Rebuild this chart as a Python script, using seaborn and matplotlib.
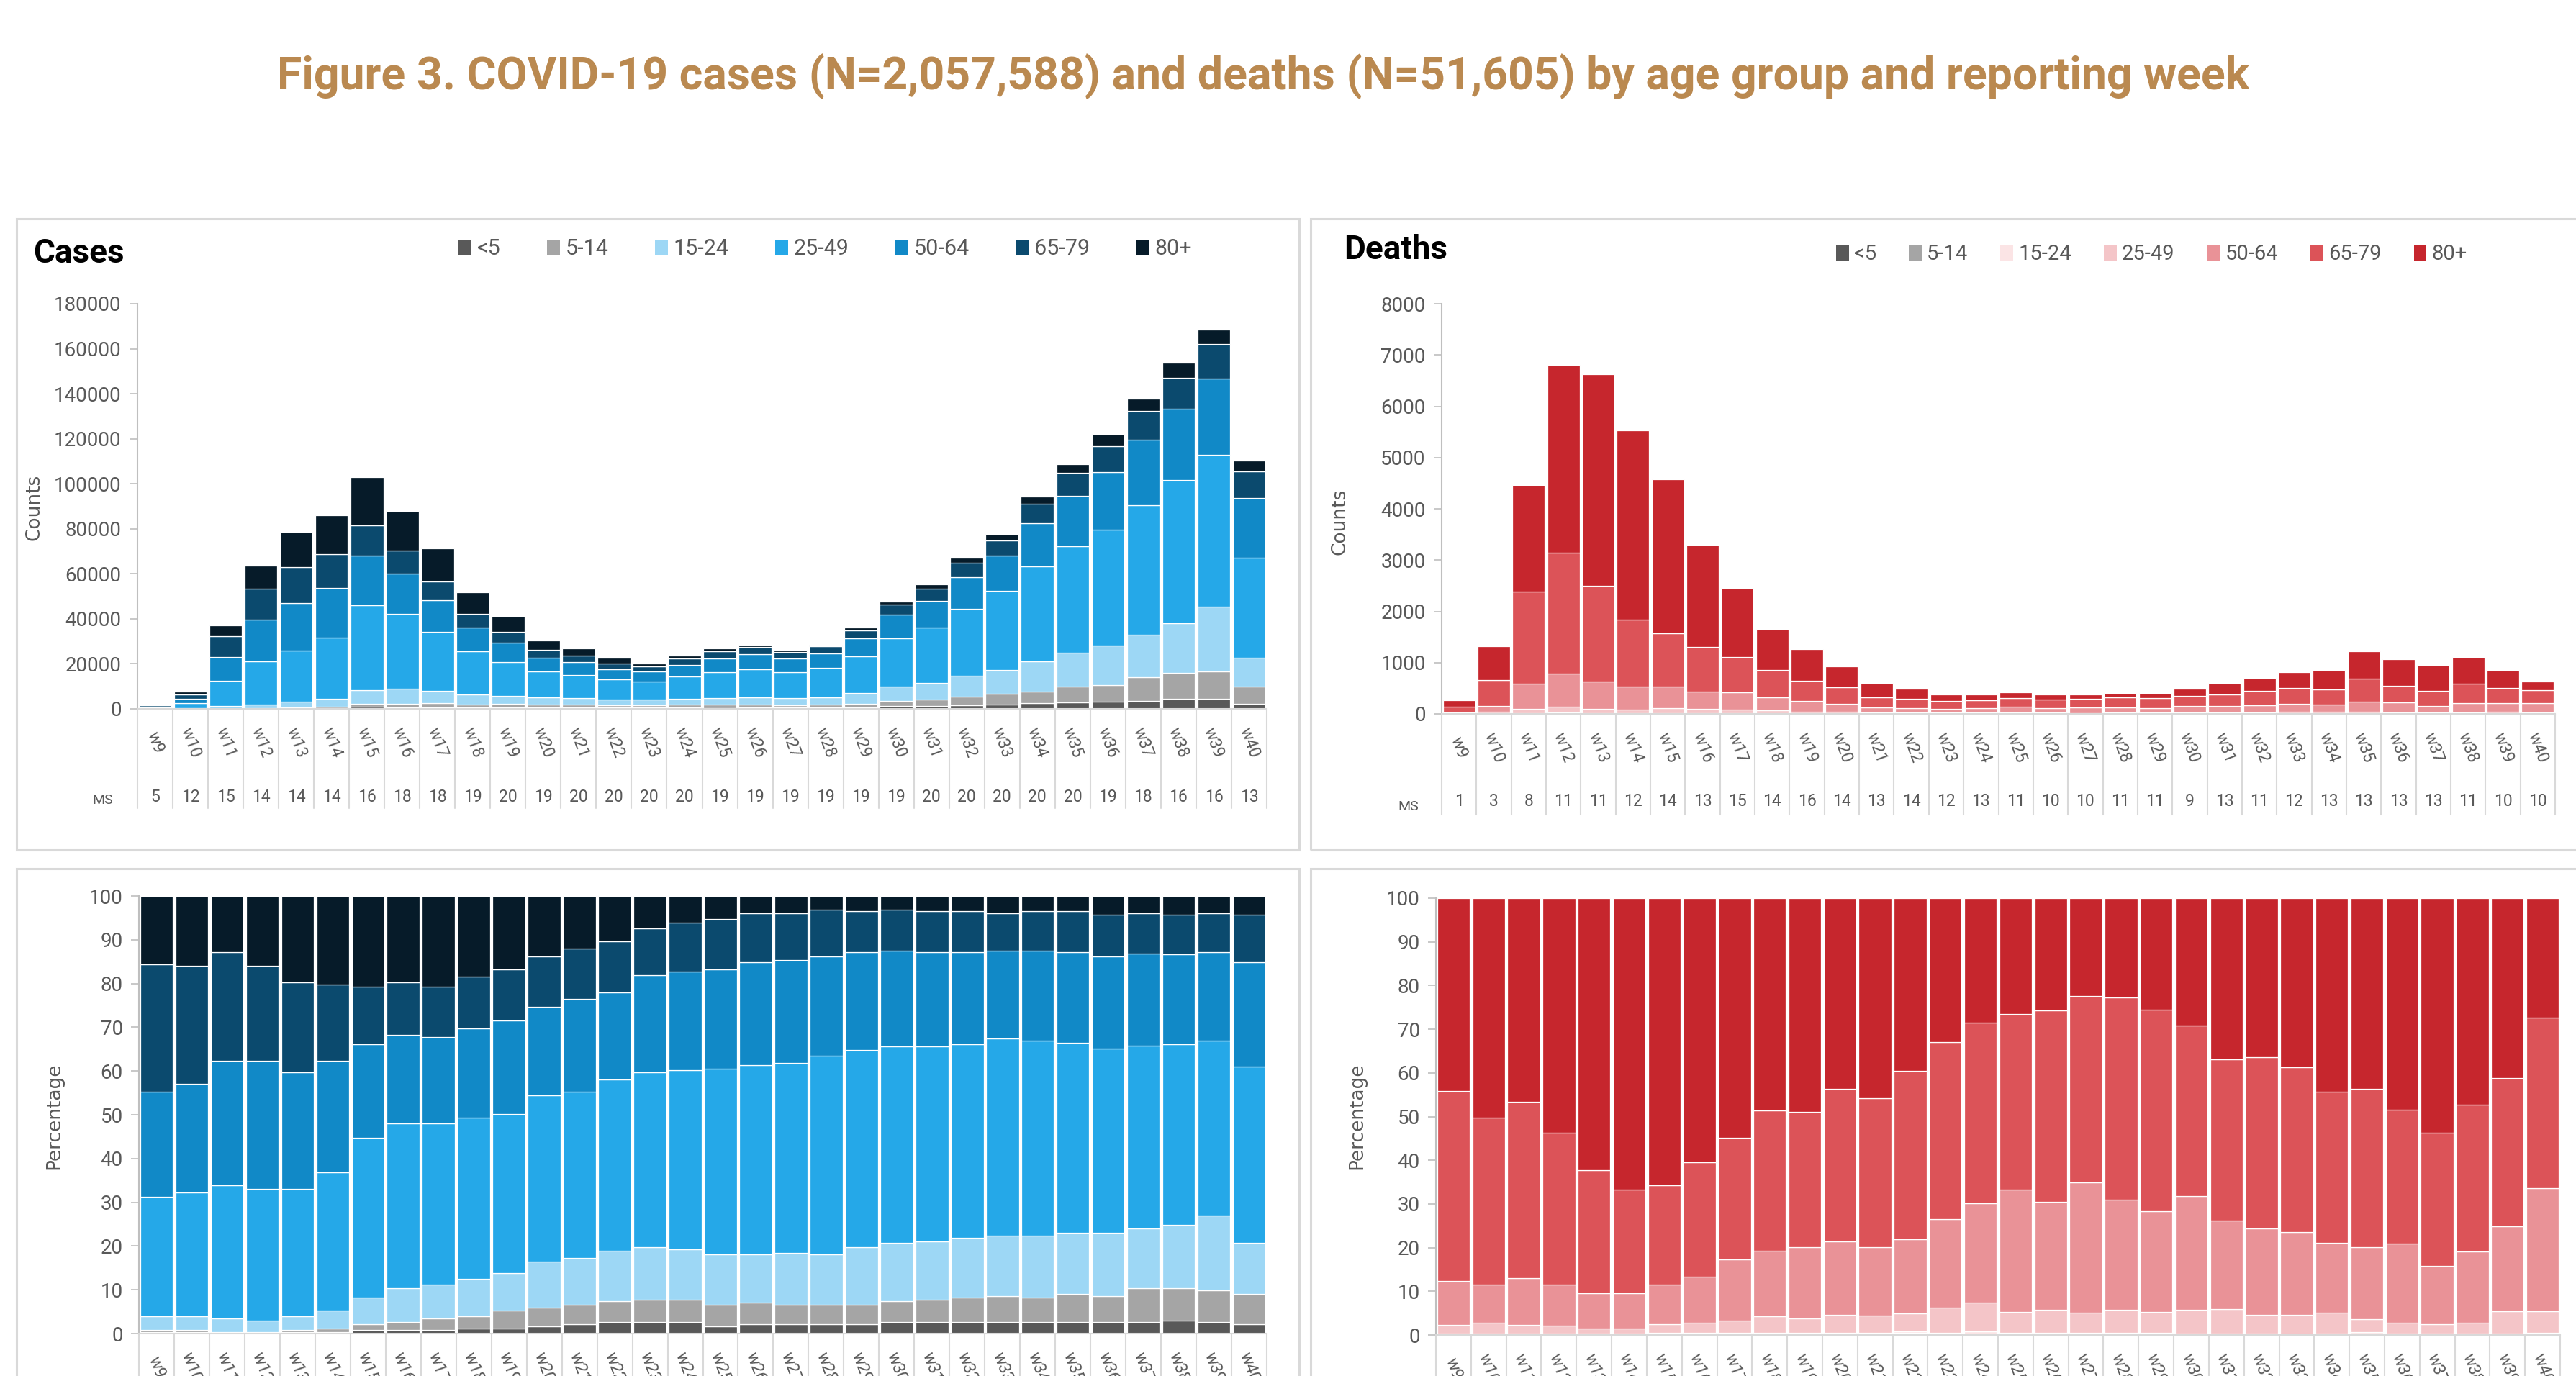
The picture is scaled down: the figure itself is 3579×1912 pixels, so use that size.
import numpy as np
import pandas as pd
import matplotlib
matplotlib.use("Agg")
import matplotlib.pyplot as plt
import seaborn as sns
from matplotlib.patches import Rectangle, Patch
from matplotlib.transforms import blended_transform_factory as btf

# ---------------- data ----------------
weeks = ["w9", "w10", "w11", "w12", "w13", "w14", "w15", "w16", "w17", "w18", "w19",
         "w20", "w21", "w22", "w23", "w24", "w25", "w26", "w27", "w28", "w29", "w30",
         "w31", "w32", "w33", "w34", "w35", "w36", "w37", "w38", "w39", "w40"]
age_groups = ["<5", "5-14", "15-24", "25-49", "50-64", "65-79", "80+"]

ms_cases = [5, 12, 15, 14, 14, 14, 16, 18, 18, 19, 20, 19, 20, 20, 20, 20, 19, 19, 19, 19,
            19, 19, 20, 20, 20, 20, 20, 19, 18, 16, 16, 13]
ms_deaths = [1, 3, 8, 11, 11, 12, 14, 13, 15, 14, 16, 14, 13, 14, 12, 13, 11, 10, 10, 11,
             11, 9, 13, 11, 12, 13, 13, 13, 13, 11, 10, 10]

# cases by age group and week
c_lt5 = [5, 23, 74, 127, 236, 344, 822, 703, 570, 623, 493, 488, 567, 588, 525, 616, 432, 601,
         550, 601, 758, 1240, 1435, 1747, 2023, 2452, 2824, 3172, 3583, 4614, 4384, 2316]
c_5_14 = [9, 38, 74, 127, 393, 689, 1336, 1582, 1851, 1401, 1644, 1342, 1215, 1085, 1050, 1232,
          1350, 1401, 1179, 1287, 1625, 2290, 2870, 3763, 4668, 5281, 6950, 7320, 10611, 11227,
          12308, 7611]
c_15_24 = [56, 239, 1113, 1656, 2434, 3444, 6271, 6768, 5554, 4463, 3535, 3172, 2862, 2599, 2424,
           2726, 3105, 3175, 3118, 3289, 4765, 6344, 7342, 9206, 10659, 13296, 15313, 17690,
           18879, 22301, 28831, 12905]
c_25_49 = [493, 2179, 11316, 19110, 22844, 27294, 37522, 33226, 26273, 19099, 14960, 11621, 10287,
           8837, 8060, 9693, 11475, 12384, 11345, 12984, 16245, 21465, 24619, 29702, 35088, 42152,
           47132, 51362, 57463, 63519, 67440, 44451]
c_50_64 = [432, 1917, 10536, 18664, 20960, 21869, 21999, 17668, 14026, 10640, 8795, 6131, 5697,
           4520, 4484, 5356, 6102, 6721, 6183, 6492, 8050, 10399, 11813, 14112, 15638, 19332,
           22372, 25620, 28938, 31683, 33889, 26362]
c_65_79 = [524, 2071, 9201, 13823, 16093, 15068, 13570, 10548, 8188, 6072, 4768, 3538, 3132, 2644,
           2161, 2631, 3132, 3203, 2803, 3060, 3393, 4484, 5189, 6317, 6691, 8487, 10208, 11590,
           12816, 13842, 15174, 11912]
c_80p = [281, 1232, 4786, 10192, 15543, 17392, 21280, 17404, 14738, 9602, 6905, 4209, 3240, 2328,
         1495, 1446, 1404, 1115, 1022, 887, 1264, 1479, 1932, 2352, 3034, 3301, 3801, 5246, 5374,
         6613, 6575, 4743]

# deaths by age group and week
d_lt5 = [0, 0, 0, 0, 0, 0, 0, 0, 0, 0, 0, 0, 0, 2, 0, 0, 0, 0, 0, 0, 0, 0, 0, 0, 0, 0, 0, 0, 0,
         0, 0, 0]
d_5_14 = [0, 0, 0, 0, 0, 0, 0, 0, 0, 0, 0, 0, 0, 0, 0, 0, 0, 0, 0, 0, 0, 0, 0, 0, 0, 0, 0, 0, 0,
          0, 0, 0]
d_15_24 = [1, 4, 13, 25, 20, 15, 20, 15, 12, 8, 6, 5, 3, 2, 2, 3, 2, 2, 2, 2, 2, 2, 2, 2, 2, 3, 8,
           3, 3, 3, 3, 3]
d_25_49 = [5, 33, 90, 120, 80, 70, 90, 80, 70, 62, 42, 38, 24, 20, 22, 25, 20, 20, 17, 22, 20, 26,
           33, 30, 35, 40, 37, 27, 20, 28, 43, 31]
d_50_64 = [26, 115, 480, 640, 530, 445, 420, 345, 343, 250, 204, 154, 93, 82, 77, 85, 116, 93, 113,
           104, 95, 127, 122, 140, 155, 136, 199, 195, 128, 181, 166, 178]
d_65_79 = [113, 506, 1800, 2360, 1870, 1310, 1036, 865, 683, 532, 390, 322, 204, 187, 154, 155,
           167, 166, 161, 192, 191, 191, 220, 276, 308, 296, 441, 327, 293, 371, 288, 247]
d_80p = [115, 663, 2082, 3660, 4130, 3685, 3014, 1998, 1349, 803, 615, 403, 274, 192, 125, 107,
         110, 97, 85, 94, 106, 142, 221, 257, 315, 377, 531, 520, 514, 522, 350, 173]

case_colors = ["#595959", "#A5A5A5", "#9DD7F5", "#25A8E8", "#1189C7", "#0B4A6E", "#061B29"]
death_colors = ["#595959", "#A5A5A5", "#FBE4E5", "#F4C5C8", "#E99297", "#DC5358", "#C6262D"]

title_text = "Figure 3. COVID-19 cases (N=2,057,588) and deaths (N=51,605) by age group and reporting week"


def long_frame(cols):
    df = pd.DataFrame(dict(zip(age_groups, cols)))
    df["idx"] = np.arange(len(weeks))
    return df.melt(id_vars="idx", var_name="age", value_name="n")


cases_df = long_frame([c_lt5, c_5_14, c_15_24, c_25_49, c_50_64, c_65_79, c_80p])
deaths_df = long_frame([d_lt5, d_5_14, d_15_24, d_25_49, d_50_64, d_65_79, d_80p])

# ---------------- figure ----------------
sns.set_theme(style="white")
plt.rcParams["font.family"] = ["Roboto", "DejaVu Sans"]

W, H = 3579, 1912
fig = plt.figure(figsize=(W / 100, H / 100), dpi=100)
fig.patch.set_facecolor("white")

GRAY = "#595959"


def rect(x0, y0, x1, y1):
    return [x0 / W, 1 - y1 / H, (x1 - x0) / W, (y1 - y0) / H]


def box(x0, y0, x1, y1):
    fig.add_artist(Rectangle((x0 / W, 1 - y1 / H), (x1 - x0) / W, (y1 - y0) / H,
                             transform=fig.transFigure, fill=False,
                             edgecolor="#D9D9D9", linewidth=2.2))


box(23, 304, 1805, 1181)
box(1821, 304, 3640, 1181)
box(23, 1207, 1805, 1990)
box(1821, 1207, 3640, 1990)

fig.text(1755 / W, 1 - 106 / H, title_text, ha="center", va="center",
         fontsize=45, fontweight="bold", color="#BA8950", family="Roboto")


def draw(ax, df, colors, mult, yticks, ylabels, ylim, line_depth, ms=None, ms_y=None):
    pal = dict(zip(age_groups, colors))
    sns.histplot(data=df, x="idx", weights="n", hue="age", hue_order=age_groups[::-1],
                 palette=pal, multiple=mult, discrete=True, shrink=0.93, alpha=1,
                 edgecolor="white", linewidth=0.9, legend=False, ax=ax)
    ax.set_xlim(-0.5, len(weeks) - 0.5)
    ax.set_ylim(*ylim)
    ax.set_xlabel("")
    ax.set_ylabel("")
    for s in ["top", "right"]:
        ax.spines[s].set_visible(False)
    ax.spines["left"].set_color("#BFBFBF")
    ax.spines["left"].set_linewidth(1.5)
    ax.spines["bottom"].set_color("#D9D9D9")
    ax.spines["bottom"].set_linewidth(1.5)
    ax.set_yticks(yticks)
    ax.set_yticklabels(ylabels)
    ax.tick_params(axis="y", left=True, length=8, width=1.2, color="#BFBFBF",
                   labelsize=20, labelcolor=GRAY, pad=8)
    ax.set_xticks(range(len(weeks)))
    ax.set_xticklabels(weeks, rotation=-70, ha="center", va="center",
                       fontsize=16.5, color=GRAY)
    ax.tick_params(axis="x", bottom=False, length=0, pad=34)
    tr = btf(ax.transData, ax.transAxes)
    for xb in np.arange(-0.5, len(weeks), 1.0):
        ax.plot([xb, xb], [0, line_depth], transform=tr, color="#D9D9D9",
                linewidth=1.5, clip_on=False, zorder=0)
    if ms is not None:
        for i, v in enumerate(ms):
            ax.text(i, ms_y, str(v), transform=tr, ha="center", va="center",
                    fontsize=16.5, color=GRAY)


# top-left: cases counts
ax1 = fig.add_axes(rect(191, 422, 1760, 985))
cy = list(range(0, 180001, 20000))
draw(ax1, cases_df, case_colors, "stack", cy, [str(v) for v in cy], (0, 180000),
     -0.245, ms_cases, -0.2167)

# top-right: deaths counts
ax2 = fig.add_axes(rect(2003, 422, 3550, 992))
dy = list(range(0, 8001, 1000))
draw(ax2, deaths_df, death_colors, "stack", dy, [str(v) for v in dy], (0, 8000),
     -0.2456, ms_deaths, -0.2123)

# bottom: percentages
py = [i / 10 for i in range(11)]
pl = [str(i * 10) for i in range(11)]
ax3 = fig.add_axes(rect(193, 1245, 1760, 1853))
draw(ax3, cases_df, case_colors, "fill", py, pl, (0, 1), -0.3)
ax4 = fig.add_axes(rect(1995, 1248, 3557, 1855))
draw(ax4, deaths_df, death_colors, "fill", py, pl, (0, 1), -0.3)

# panel titles
fig.text(46 / W, 1 - 352 / H, "Cases", ha="left", va="center", fontsize=33,
         fontweight="bold", color="black")
fig.text(1867 / W, 1 - 347 / H, "Deaths", ha="left", va="center", fontsize=33,
         fontweight="bold", color="black")

# axis titles
for (x, y, t) in [(48, 705, "Counts"), (1862, 725, "Counts"),
                  (75, 1551, "Percentage"), (1885, 1551, "Percentage")]:
    fig.text(x / W, 1 - y / H, t, rotation=90, ha="center", va="center",
             fontsize=19, color=GRAY, family="DejaVu Sans")

# MS labels
fig.text(143 / W, 1 - 1112 / H, "MS", ha="center", va="center", fontsize=14, color=GRAY)
fig.text(1957 / W, 1 - 1121 / H, "MS", ha="center", va="center", fontsize=14, color=GRAY)

# legends
for colors, x0, y0, cs, fs in [(case_colors, 637, 346, 2.1, 22), (death_colors, 2551, 353, 1.55, 21)]:
    handles = [Patch(facecolor=c, edgecolor="none") for c in colors]
    leg = fig.legend(handles, age_groups, ncol=7, loc="center left",
                     bbox_to_anchor=(x0 / W, 1 - y0 / H), frameon=False, fontsize=fs,
                     handlelength=0.6, handleheight=0.75, handletextpad=0.25,
                     columnspacing=cs, borderpad=0, borderaxespad=0)
    for t in leg.get_texts():
        t.set_color(GRAY)

fig.savefig("out.png", dpi=100, facecolor="white")
